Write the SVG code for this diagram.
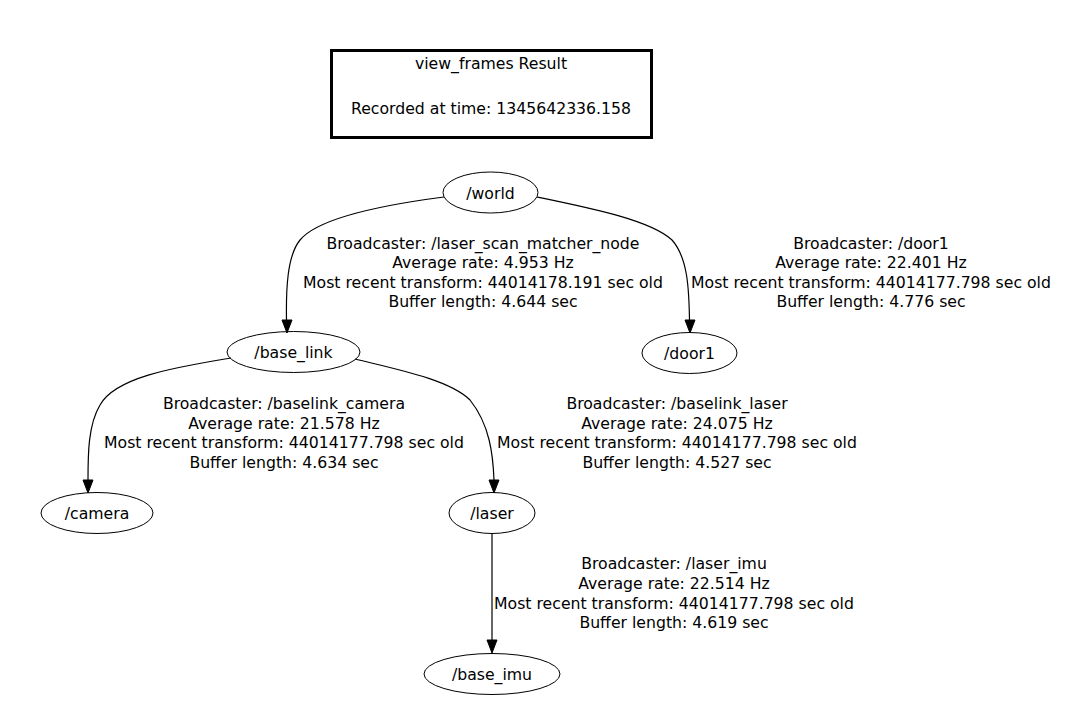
<svg xmlns="http://www.w3.org/2000/svg" width="1082" height="724" viewBox="0 0 1082 724">
<style>
text{font-family:"DejaVu Sans",sans-serif;font-size:15.7px;fill:#000;text-anchor:middle}
.n ellipse{fill:none;stroke:#000;stroke-width:1}
.e path{fill:none;stroke:#000;stroke-width:1.2}
.e polygon{fill:#000;stroke:#000}
</style>
<rect width="1082" height="724" fill="#fff"/>
<g id="title">
<rect x="331.5" y="50.5" width="320" height="87" fill="none" stroke="#000" stroke-width="3"/>
<text x="491" y="68.5">view_frames Result</text>
<text x="491" y="113.5">Recorded at time: 1345642336.158</text>
</g>
<g id="connectors" class="e">
<path d="M444,197 C390,204 320,216 300,240 C287,256 286,290 286.5,320"/>
<polygon points="282,320 287,333 292,320"/>
<path d="M537,197 C590,208 650,220 672,240 C688,258 689,290 689.5,320"/>
<polygon points="685,320 690,333 695,320"/>
<path d="M231,358 C170,368 115,378 100,405 C88,425 88,455 88,480"/>
<polygon points="83,480 88,493 93,480"/>
<path d="M355,359 C400,370 450,380 470,400 C490,425 493,455 494,480"/>
<polygon points="489,480 494,493 499,480"/>
<path d="M492,533 L492,640"/>
<polygon points="487,640 492,653 497,640"/>
</g>
<g id="labels">
<text x="483" y="249">Broadcaster: /laser_scan_matcher_node</text>
<text x="483" y="268">Average rate: 4.953 Hz</text>
<text x="483" y="288">Most recent transform: 44014178.191 sec old</text>
<text x="483" y="307">Buffer length: 4.644 sec</text>
<text x="871" y="249">Broadcaster: /door1</text>
<text x="871" y="268">Average rate: 22.401 Hz</text>
<text x="871" y="288">Most recent transform: 44014177.798 sec old</text>
<text x="871" y="307">Buffer length: 4.776 sec</text>
<text x="284" y="409">Broadcaster: /baselink_camera</text>
<text x="284" y="429">Average rate: 21.578 Hz</text>
<text x="284" y="448">Most recent transform: 44014177.798 sec old</text>
<text x="284" y="468">Buffer length: 4.634 sec</text>
<text x="677" y="409">Broadcaster: /baselink_laser</text>
<text x="677" y="429">Average rate: 24.075 Hz</text>
<text x="677" y="448">Most recent transform: 44014177.798 sec old</text>
<text x="677" y="468">Buffer length: 4.527 sec</text>
<text x="674" y="569">Broadcaster: /laser_imu</text>
<text x="674" y="589">Average rate: 22.514 Hz</text>
<text x="674" y="609">Most recent transform: 44014177.798 sec old</text>
<text x="674" y="628">Buffer length: 4.619 sec</text>
</g>
<g id="world" class="n"><ellipse cx="490.5" cy="192.5" rx="47.5" ry="20.5"/><text x="490.5" y="198.5">/world</text></g>
<g id="base_link" class="n"><ellipse cx="293.5" cy="352" rx="66.5" ry="20.5"/><text x="293.5" y="358">/base_link</text></g>
<g id="door1" class="n"><ellipse cx="689.5" cy="353" rx="47.5" ry="20.5"/><text x="689.5" y="359">/door1</text></g>
<g id="camera" class="n"><ellipse cx="97" cy="513" rx="56" ry="20.5"/><text x="97" y="519">/camera</text></g>
<g id="laser" class="n"><ellipse cx="492" cy="513" rx="43" ry="20.5"/><text x="492" y="519">/laser</text></g>
<g id="base_imu" class="n"><ellipse cx="492" cy="674" rx="68" ry="20.5"/><text x="492" y="680">/base_imu</text></g>
</svg>
